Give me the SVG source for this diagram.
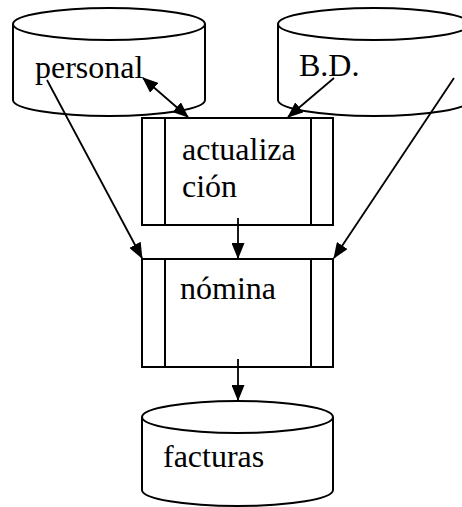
<svg xmlns="http://www.w3.org/2000/svg" width="462" height="507" viewBox="0 0 462 507">
<style>
.s{fill:#fff;stroke:#000;stroke-width:2}
.l{fill:none;stroke:#000;stroke-width:2}
.c{stroke:#000;stroke-width:1.8;fill:none}
.t{font-size:32px;fill:#000}
</style>
<defs>
<marker id="ah" markerUnits="userSpaceOnUse" markerWidth="16" markerHeight="13" refX="15" refY="6.5" orient="auto-start-reverse" viewBox="0 0 16 13">
<path d="M0,0 L16,6.5 L0,13 z" fill="#000"/>
</marker>
</defs>
<rect width="462" height="507" fill="#fff"/>
<g id="personal">
<path class="s" d="M13,24 L13,100 A96,16 0 0 0 205,100 L205,24"/>
<ellipse class="s" cx="109" cy="24" rx="96" ry="16"/>
<text class="t" font-family="Liberation Serif, serif" x="35" y="78">personal</text>
</g>
<g id="bd">
<path class="s" d="M278,24 L278,100 A96,16 0 0 0 470,100 L470,24"/>
<ellipse class="s" cx="374" cy="24" rx="96" ry="16"/>
<text class="t" font-family="Liberation Serif, serif" x="299" y="76">B.D.</text>
</g>
<g id="actualizacion">
<rect class="s" x="142" y="118" width="191" height="107"/>
<line class="l" x1="165" y1="118" x2="165" y2="225"/>
<line class="l" x1="311" y1="118" x2="311" y2="225"/>
<text class="t" font-family="Liberation Serif, serif" x="182" y="160">actualiza</text>
<text class="t" font-family="Liberation Serif, serif" x="182" y="197">ción</text>
</g>
<g id="nomina">
<rect class="s" x="142" y="259" width="191" height="108"/>
<line class="l" x1="165" y1="259" x2="165" y2="367"/>
<line class="l" x1="311" y1="259" x2="311" y2="367"/>
<text class="t" font-family="Liberation Serif, serif" x="180" y="299">nómina</text>
</g>
<g id="facturas">
<path class="s" d="M142,417 L142,490 A95.5,16 0 0 0 333,490 L333,417"/>
<ellipse class="s" cx="237.5" cy="417" rx="95.5" ry="16"/>
<text class="t" font-family="Liberation Serif, serif" x="163" y="467">facturas</text>
</g>
<g id="connectors">
<line class="c" x1="143" y1="78" x2="188" y2="117" marker-start="url(#ah)" marker-end="url(#ah)"/>
<line class="c" x1="334" y1="78" x2="288" y2="117" marker-end="url(#ah)"/>
<line class="c" x1="47" y1="80" x2="142" y2="258" marker-end="url(#ah)"/>
<line class="c" x1="454" y1="78" x2="334" y2="258" marker-end="url(#ah)"/>
<line class="c" x1="238" y1="218" x2="238" y2="258" marker-end="url(#ah)"/>
<line class="c" x1="238" y1="359" x2="238" y2="400" marker-end="url(#ah)"/>
</g>
</svg>
